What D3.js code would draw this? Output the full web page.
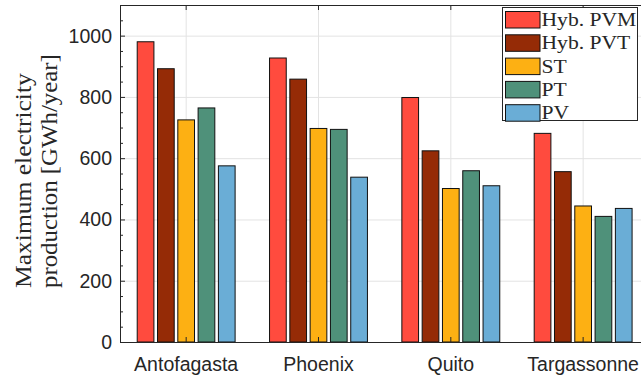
<!DOCTYPE html>
<html lang="en">
<head>
    <meta charset="UTF-8">
    <title>Maximum electricity production</title>
    <script src="https://d3js.org/d3.v7.min.js"></script>
    <style>
        body { margin: 0; background: #fff; }
        svg { display: block; }
        .tick-label { font-family: "Liberation Sans", Arial, sans-serif; font-size: 19.5px; fill: #262626; }
        .serif { font-family: "Liberation Serif", "DejaVu Serif", serif; fill: #262626; }
    </style>
</head>
<body>
<svg></svg>
<script>
    const cities = ["Antofagasta", "Phoenix", "Quito", "Targassonne"];
    const series = ["Hyb. PVM", "Hyb. PVT", "ST", "PT", "PV"];
    const colors = ["#ff4b3e", "#952b06", "#fdb013", "#4f917a", "#6aadd6"];

    // one array per technology, in city order
    const hybPVM = [980, 927, 798, 681];
    const hybPVT = [892, 858, 624, 556];
    const st     = [725, 697, 501, 444];
    const pt     = [764, 694, 559, 410];
    const pv     = [575, 538, 510, 436];

    const yTicks = [0, 200, 400, 600, 800, 1000];

    const values = [hybPVM, hybPVT, st, pt, pv];

    const width = 641, height = 379;
    const plotL = 120, plotT = 5, plotB = 342, plotR = 649.3;

    const svg = d3.select("svg").attr("width", width).attr("height", height);

    const x0 = d3.scaleBand().domain(cities).range([plotL, plotR]).padding(0);
    const x1 = d3.scaleBand().domain(series).range([-48.95, 48.95]).paddingInner(0.177).paddingOuter(0);
    const y = d3.scaleLinear().domain([0, 1100]).range([plotB, plotT]);
    const cx = d => x0(d) + x0.bandwidth() / 2;

    // grid
    const grid = svg.append("g");
    grid.selectAll(".hg").data(yTicks).enter().append("line")
        .attr("x1", plotL).attr("x2", width)
        .attr("y1", d => y(d) + 0.5).attr("y2", d => y(d) + 0.5)
        .attr("stroke", "#e3e3e3").attr("stroke-width", 1);
    grid.selectAll(".vg").data(cities).enter().append("line")
        .attr("x1", cx).attr("x2", cx)
        .attr("y1", plotT).attr("y2", plotB)
        .attr("stroke", "#e3e3e3").attr("stroke-width", 1);

    // bars
    const groups = svg.selectAll(".grp").data(cities).enter().append("g")
        .attr("transform", d => `translate(${cx(d)},0)`);
    groups.selectAll("rect")
        .data((c, i) => series.map((s, j) => ({ s, j, v: values[j][i] })))
        .enter().append("rect")
        .attr("x", d => x1(d.s))
        .attr("width", x1.bandwidth())
        .attr("y", d => y(d.v))
        .attr("height", d => y(0) - y(d.v))
        .attr("fill", d => colors[d.j])
        .attr("stroke", "#111")
        .attr("stroke-width", 1);

    // axes box
    const axisColor = "#262626";
    svg.append("line").attr("x1", plotL).attr("x2", width).attr("y1", plotB + 0.5).attr("y2", plotB + 0.5)
        .attr("stroke", axisColor);
    svg.append("line").attr("x1", plotL).attr("x2", width).attr("y1", plotT + 0.5).attr("y2", plotT + 0.5)
        .attr("stroke", axisColor);
    svg.append("line").attr("x1", plotL + 0.5).attr("x2", plotL + 0.5).attr("y1", plotT).attr("y2", plotB + 1)
        .attr("stroke", axisColor);

    // minor y ticks every 50
    const minor = d3.range(0, 1101, 50);
    svg.selectAll(".ymin").data(minor).enter().append("line")
        .attr("x1", plotL).attr("x2", d => plotL + (d % 200 === 0 ? 5 : 3))
        .attr("y1", d => y(d) + 0.5).attr("y2", d => y(d) + 0.5)
        .attr("stroke", axisColor);

    // x ticks top and bottom
    svg.selectAll(".xtb").data(cities).enter().append("line")
        .attr("x1", cx).attr("x2", cx)
        .attr("y1", plotB).attr("y2", plotB - 5).attr("stroke", axisColor);
    svg.selectAll(".xtt").data(cities).enter().append("line")
        .attr("x1", cx).attr("x2", cx)
        .attr("y1", plotT).attr("y2", plotT + 5).attr("stroke", axisColor);

    // tick labels
    svg.selectAll(".yl").data(yTicks).enter().append("text")
        .attr("class", "tick-label")
        .attr("x", 112).attr("y", d => y(d) + 7)
        .attr("text-anchor", "end")
        .text(d => d);
    svg.selectAll(".xl").data(cities).enter().append("text")
        .attr("class", "tick-label")
        .attr("x", cx).attr("y", 370.5)
        .attr("text-anchor", "middle")
        .text(d => d);

    // latex-ish serif is wider than Liberation Serif, stretch a bit
    const widen = (sel, k) => sel.each(function () {
        const w = this.getComputedTextLength();
        d3.select(this).attr("textLength", w * k).attr("lengthAdjust", "spacingAndGlyphs");
    });

    // y label, two left-aligned lines (tabular style)
    const yl = svg.append("text").attr("class", "serif")
        .attr("transform", "rotate(-90)")
        .attr("text-anchor", "start").style("font-size", "23px");
    yl.append("tspan").attr("x", -288).attr("y", 30.5).text("Maximum electricity").call(widen, 1.11);
    yl.append("tspan").attr("x", -288).attr("y", 56.5).text("production [GWh/year]").call(widen, 1.08);

    // legend
    const lg = svg.append("g").attr("transform", "translate(502.5,7.5)");
    lg.append("rect").attr("width", 135).attr("height", 113)
        .attr("fill", "#fff").attr("stroke", axisColor);
    const items = lg.selectAll(".li").data(series).enter().append("g")
        .attr("transform", (d, i) => `translate(0,${4 + i * 23.3})`);
    items.append("rect").attr("x", 3).attr("width", 34.5).attr("height", 16.5)
        .attr("fill", (d, i) => colors[i]).attr("stroke", "#111");
    items.append("text").attr("class", "serif")
        .attr("x", 39).attr("y", 14.5).style("font-size", "18px")
        .text(d => d)
        .call(widen, 1.2);
</script>
</body>
</html>
